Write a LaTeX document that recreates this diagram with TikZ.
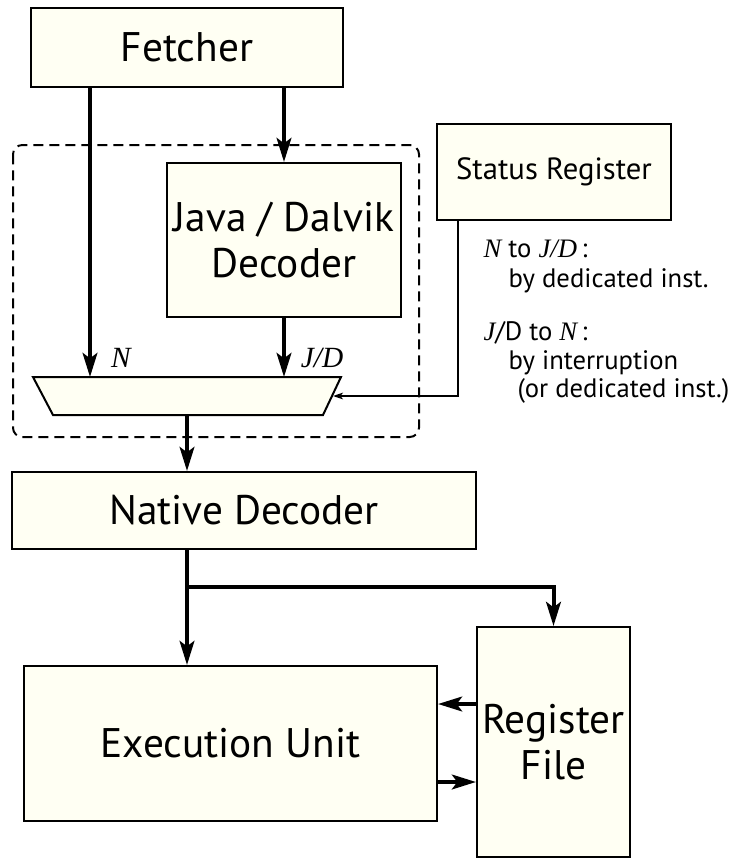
\documentclass[tikz,border=0pt]{standalone}
\usepackage{fontspec}
\setmainfont{PT Sans}
\newfontfamily\timesfont{Liberation Serif}
\usetikzlibrary{arrows.meta}

\tikzset{every picture/.style={line width=0.75pt}}
\definecolor{boxfill}{RGB}{255,255,243}
\newcommand\blkfont{\fontsize{31}{34}\selectfont}
\newcommand\regfont{\fontsize{23}{26}\selectfont}
\newcommand\notefont{\fontsize{20}{22}\selectfont}
\newcommand\tim[1]{{\timesfont\itshape #1}}
\tikzset{
  blk/.style={draw, fill=boxfill, line width=1.5pt, inner sep=0pt, align=center, font=\blkfont},
  bus/.style={line width=3pt, -{Stealth[length=18pt, width=11pt, inset=4pt]}},
  ctl/.style={line width=1.5pt, -{Stealth[length=7.5pt, width=5pt, inset=2pt]}},
  note/.style={anchor=base west, inner sep=0pt, font=\notefont},
}

\begin{document}
\begin{tikzpicture}[x=0.75pt,y=0.75pt,yscale=-1,xscale=1]
	\useasboundingbox (0,0) rectangle (734,858);

	%Shape: Rounded Rect (decoder group)
	\draw [dash pattern=on 7.5pt off 4.5pt, line width=1.5pt, rounded corners=7pt] (13,145) rectangle (419,437);

	%Shape: Rectangle
	\node [blk, minimum width=234pt, minimum height=59.25pt] (fetcher) at (187,47.5) {Fetcher};
	%Shape: Rectangle
	\node [blk, minimum width=175.5pt, minimum height=115.5pt] (jdec) at (284,240) {Java / Dalvik\\Decoder};
	%Shape: Rectangle
	\node [blk, minimum width=175.5pt, minimum height=72pt, font=\regfont] (status) at (554,172) {Status Register};
	%Shape: Rectangle
	\node [blk, minimum width=348pt, minimum height=57.75pt] (native) at (244,510.5) {Native Decoder};
	%Shape: Rectangle
	\node [blk, minimum width=309.75pt, minimum height=116.25pt] (exec) at (230.5,743.5) {Execution Unit};
	%Shape: Rectangle
	\node [blk, minimum width=114.75pt, minimum height=172.5pt] (regfile) at (553.5,742) {Register\\File};

	%Shape: Trapezoid (selector)
	\draw [fill=boxfill, line width=1.5pt] (33,377) -- (341,377) -- (323,415) -- (53,415) -- cycle;
	\coordinate (nin) at (90,377);
	\coordinate (jin) at (284,377);
	\coordinate (muxout) at (187,415);
	\coordinate (selin) at (333,396);
	\coordinate (sel) at (458,396);
	\coordinate (split) at (187,587);
	\coordinate (rd) at (0,704);
	\coordinate (wr) at (0,782);

	%Straight Lines
	\draw [bus] (fetcher.south -| nin) -- (nin);
	\draw [bus] (fetcher.south -| jdec.north) -- (jdec.north);
	\draw [bus] (jdec.south) -- (jin);
	\draw [bus] (muxout) -- (muxout |- native.north);
	\draw [bus] (native.south -| muxout) -- (exec.north -| muxout);
	\draw [bus] (split) -| (regfile.north);
	\draw [bus] (regfile.west |- rd) -- (exec.east |- rd);
	\draw [bus] (exec.east |- wr) -- (regfile.west |- wr);
	\draw [ctl] (status.south -| sel) -- (sel) -- (selin);

	% Text Node
	\node [font=\timesfont\itshape\fontsize{22}{24}\selectfont] (lbln) at (121,358) {N};
	% Text Node
	\node [font=\timesfont\itshape\fontsize{22}{24}\selectfont] (lbljd) at (322,358) {J/D};
	% Text Node
	\node [note] (note1) at (483,257) {\tim{N} to \tim{J/D}\,:};
	\node [note] (note2) at (508,287) {by dedicated inst.};
	\node [note] (note3) at (483,340) {\tim{J}/D to \tim{N}\,:};
	\node [note] (note4) at (508,369) {by interruption};
	\node [note] (note5) at (517,397) {(or dedicated inst.)};

\end{tikzpicture}
\end{document}
